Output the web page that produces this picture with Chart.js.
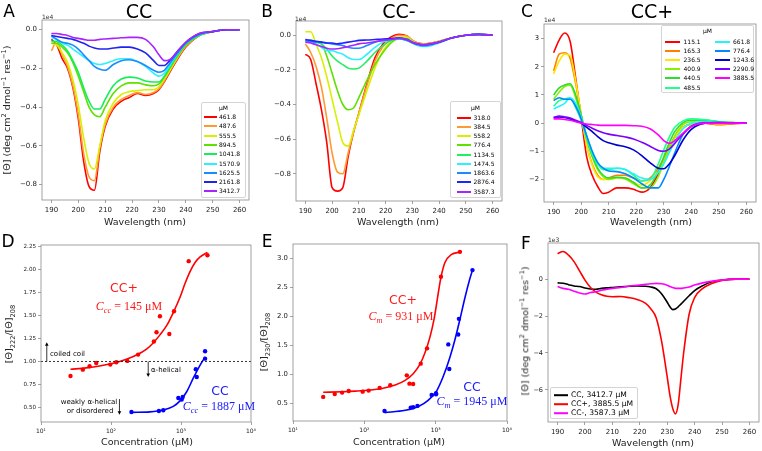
<!DOCTYPE html>
<html>
<head>
<meta charset="utf-8">
<script src="https://cdn.jsdelivr.net/npm/chart.js@4.4.1/dist/chart.umd.min.js"></script>
<style>
  html, body { margin: 0; padding: 0; background: #fff; overflow: hidden; }
  #stage { position: relative; width: 762px; height: 451px; font-family: 'DejaVu Sans', sans-serif; color: #000; }
  #stage canvas { position: absolute; z-index: 1; }
  .t { position: absolute; z-index: 2; transform: translate(-50%, -50%); white-space: nowrap; line-height: 1; }
  .rot { transform: translate(-50%, -50%) rotate(-90deg); }
  .l { transform: translate(0, -50%); }
  .letter { font-size: 17px; }
  .head { font-size: 19px; }
  .axl { font-size: 9.5px; color: #222; }
  .off { font-size: 6px; color: #333; }
  .note { font-size: 7px; }
  .ann { font-size: 12.5px; }
  .serif { font-family: 'Liberation Serif', 'DejaVu Serif', serif; font-size: 12px; }
  sup, sub { font-size: 70%; line-height: 0; }
  .legend { position: absolute; z-index: 3; border: 1px solid #d4d4d4; border-radius: 2px;
            background: rgba(255,255,255,0.9); box-sizing: border-box; }
  .legend div { position: absolute; white-space: nowrap; line-height: 1; display: flex; align-items: center; transform: translateY(-50%); }
  .legend .sw { display: inline-block; height: 2px; }
</style>
</head>
<body>
<div id="stage">
  <!-- panel letters and titles -->
  <div class="t letter" style="left:9px;top:11px">A</div>
  <div class="t letter" style="left:267px;top:11px">B</div>
  <div class="t letter" style="left:527px;top:11px">C</div>
  <div class="t letter" style="left:8px;top:241px">D</div>
  <div class="t letter" style="left:267px;top:241px">E</div>
  <div class="t letter" style="left:526px;top:243px">F</div>
  <div class="t head" style="left:139px;top:11px">CC</div>
  <div class="t head" style="left:399px;top:11px">CC-</div>
  <div class="t head" style="left:652px;top:11px">CC+</div>

  <!-- offset texts -->
  <div class="t l off" style="left:42px;top:16.5px">1e4</div>
  <div class="t l off" style="left:295px;top:19px">1e4</div>
  <div class="t l off" style="left:544px;top:20px">1e4</div>
  <div class="t l off" style="left:548px;top:239.5px">1e3</div>

  <!-- axis labels -->
  <div class="t axl" style="left:145px;top:221.5px">Wavelength (nm)</div>
  <div class="t axl" style="left:398px;top:221.5px">Wavelength (nm)</div>
  <div class="t axl" style="left:651px;top:221.5px">Wavelength (nm)</div>
  <div class="t axl" style="left:147px;top:442px">Concentration (μM)</div>
  <div class="t axl" style="left:399px;top:442px">Concentration (μM)</div>
  <div class="t axl" style="left:653px;top:442.5px">Wavelength (nm)</div>
  <div class="t axl rot" style="left:7px;top:110px">[Θ] (deg cm<sup>2</sup> dmol<sup>−1</sup> res<sup>−1</sup>)</div>
  <div class="t axl rot" style="left:9px;top:334px">[Θ]<sub>222</sub>/[Θ]<sub>208</sub></div>
  <div class="t axl rot" style="left:264px;top:342px">[Θ]<sub>230</sub>/[Θ]<sub>208</sub></div>
  <div class="t axl rot" style="left:525px;top:331px">[Θ] (deg cm<sup>2</sup> dmol<sup>−1</sup> res<sup>−1</sup>)</div>

  <!-- panel D annotations -->
  <div class="t ann" style="left:124px;top:288px;color:#ff1a1a">CC+</div>
  <div class="t serif" style="left:129px;top:306px;color:#ff1a1a"><i>C<sub>cc</sub></i> = 145 μM</div>
  <div class="t ann" style="left:220px;top:391px;color:#1a1aff">CC</div>
  <div class="t serif" style="left:219px;top:406px;color:#1a1aff"><i>C<sub>cc</sub></i> = 1887 μM</div>
  <div class="t l note" style="left:50px;top:354px">coiled coil</div>
  <div class="t l note" style="left:151px;top:369.5px">α-helical</div>
  <div class="t note" style="left:89px;top:402px">weakly α-helical</div>
  <div class="t note" style="left:90px;top:411px">or disordered</div>

  <!-- panel E annotations -->
  <div class="t ann" style="left:403px;top:300px;color:#ff1a1a">CC+</div>
  <div class="t serif" style="left:401px;top:316px;color:#ff1a1a"><i>C<sub>m</sub></i> = 931 μM</div>
  <div class="t ann" style="left:472px;top:386.5px;color:#1a1aff">CC</div>
  <div class="t serif" style="left:472px;top:401px;color:#1a1aff"><i>C<sub>m</sub></i> = 1945 μM</div>
</div>

<script>
// ============================================================
// CD titration figure — six panels drawn with Chart.js
// ============================================================

// ── Shared wavelength grid for panels A–C (nm), values in 1e4 units ──
const waveGrid = [190,192,194,196,198,200,202,204,206,208,210,213,216,219,222,225,228,230,232,234,237,240,245,250,255,260];

// ── Panel A: CC ──────────────────────────────────────────
const concA = ['461.8','487.6','555.5','894.5','1041.8','1570.9','1625.5','2161.8','3412.7'];
const cdA = [
  [-0.05,-0.08,-0.15,-0.20,-0.30,-0.46,-0.68,-0.81,-0.83,-0.63,-0.50,-0.41,-0.37,-0.35,-0.33,-0.34,-0.33,-0.31,-0.27,-0.22,-0.15,-0.09,-0.03,-0.01,0,0],
  [-0.11,-0.06,-0.13,-0.19,-0.29,-0.44,-0.64,-0.76,-0.78,-0.61,-0.49,-0.40,-0.36,-0.34,-0.325,-0.335,-0.325,-0.305,-0.265,-0.215,-0.145,-0.085,-0.03,-0.01,0,0],
  [-0.07,-0.08,-0.12,-0.17,-0.26,-0.39,-0.56,-0.69,-0.72,-0.60,-0.47,-0.38,-0.335,-0.32,-0.315,-0.31,-0.31,-0.295,-0.255,-0.21,-0.14,-0.08,-0.03,-0.01,0,0],
  [-0.07,-0.07,-0.09,-0.12,-0.17,-0.24,-0.32,-0.40,-0.44,-0.45,-0.40,-0.33,-0.29,-0.275,-0.275,-0.285,-0.29,-0.28,-0.245,-0.20,-0.135,-0.08,-0.03,-0.01,0,0],
  [-0.06,-0.06,-0.08,-0.11,-0.16,-0.22,-0.30,-0.37,-0.41,-0.41,-0.36,-0.29,-0.255,-0.245,-0.25,-0.265,-0.27,-0.27,-0.24,-0.195,-0.13,-0.075,-0.03,-0.01,0,0],
  [-0.04,-0.05,-0.07,-0.08,-0.10,-0.12,-0.14,-0.16,-0.175,-0.18,-0.175,-0.16,-0.15,-0.15,-0.165,-0.19,-0.225,-0.24,-0.225,-0.185,-0.125,-0.07,-0.025,-0.01,0,0],
  [-0.03,-0.05,-0.065,-0.07,-0.08,-0.10,-0.13,-0.16,-0.19,-0.205,-0.21,-0.18,-0.16,-0.155,-0.165,-0.185,-0.21,-0.22,-0.21,-0.175,-0.12,-0.07,-0.025,-0.01,0,0],
  [-0.03,-0.035,-0.04,-0.045,-0.05,-0.06,-0.07,-0.085,-0.095,-0.10,-0.10,-0.095,-0.09,-0.09,-0.10,-0.12,-0.16,-0.185,-0.185,-0.16,-0.11,-0.065,-0.02,-0.01,0,0],
  [-0.02,-0.02,-0.025,-0.03,-0.04,-0.045,-0.05,-0.055,-0.055,-0.05,-0.048,-0.045,-0.042,-0.04,-0.04,-0.05,-0.09,-0.13,-0.16,-0.155,-0.11,-0.065,-0.02,-0.01,0,0]
];
const colorsA = ['#ff0000','#ff9933','#d8f000','#5ee000','#14ee5a','#2af0ff','#1a8cff','#2222ee','#aa22ff'];

// ── Panel B: CC- ─────────────────────────────────────────
const concB = ['318.0','384.5','558.2','776.4','1134.5','1474.5','1863.6','2876.4','3587.3'];
const cdB = [
  [-0.11,-0.14,-0.28,-0.43,-0.62,-0.88,-0.90,-0.88,-0.70,-0.56,-0.45,-0.28,-0.13,-0.05,-0.01,0.005,-0.005,-0.03,-0.045,-0.05,-0.045,-0.035,-0.015,0,0.005,0],
  [-0.05,-0.10,-0.18,-0.30,-0.48,-0.68,-0.79,-0.80,-0.68,-0.56,-0.45,-0.29,-0.15,-0.065,-0.02,0,-0.005,-0.03,-0.045,-0.05,-0.045,-0.035,-0.015,0,0.005,0],
  [0.02,0.02,-0.05,-0.13,-0.24,-0.37,-0.50,-0.62,-0.64,-0.55,-0.46,-0.32,-0.19,-0.09,-0.035,-0.01,-0.01,-0.035,-0.05,-0.055,-0.05,-0.035,-0.015,0,0.005,0],
  [-0.03,-0.03,-0.04,-0.05,-0.12,-0.22,-0.32,-0.40,-0.43,-0.42,-0.36,-0.26,-0.17,-0.10,-0.045,-0.02,-0.02,-0.04,-0.055,-0.06,-0.055,-0.04,-0.015,0,0.005,0],
  [-0.03,-0.035,-0.04,-0.05,-0.08,-0.12,-0.15,-0.17,-0.19,-0.195,-0.19,-0.15,-0.10,-0.06,-0.03,-0.02,-0.025,-0.04,-0.055,-0.06,-0.055,-0.04,-0.015,0,0.005,0],
  [-0.03,-0.04,-0.05,-0.07,-0.09,-0.09,-0.10,-0.11,-0.13,-0.14,-0.14,-0.11,-0.07,-0.04,-0.025,-0.02,-0.03,-0.045,-0.06,-0.065,-0.06,-0.045,-0.015,0,0.005,0],
  [-0.03,-0.035,-0.04,-0.04,-0.045,-0.05,-0.055,-0.06,-0.07,-0.075,-0.075,-0.06,-0.04,-0.03,-0.025,-0.02,-0.03,-0.045,-0.055,-0.06,-0.055,-0.04,-0.015,0,0.005,0],
  [-0.025,-0.03,-0.035,-0.04,-0.045,-0.045,-0.05,-0.045,-0.04,-0.035,-0.03,-0.028,-0.025,-0.022,-0.02,-0.015,-0.025,-0.04,-0.05,-0.055,-0.05,-0.04,-0.015,0,0.005,0],
  [-0.04,-0.045,-0.055,-0.065,-0.075,-0.08,-0.078,-0.072,-0.065,-0.058,-0.05,-0.045,-0.038,-0.03,-0.025,-0.018,-0.025,-0.04,-0.05,-0.055,-0.05,-0.04,-0.015,0,0.005,0]
];
const colorsB = ['#ff0000','#ff9933','#d8f000','#5ee000','#22ee66','#2af0ff','#2288ff','#2222ff','#aa22ff'];

// ── Panel C: CC+ ─────────────────────────────────────────
const concC = ['115.1','165.3','236.5','400.9','440.5','485.5','661.8','776.4','1243.6','2290.9','3885.5'];
const cdC = [
  [2.5,2.95,3.2,2.9,1.6,0.2,-1.2,-1.85,-2.25,-2.5,-2.45,-2.3,-2.3,-2.35,-2.45,-2.3,-1.8,-1.35,-0.9,-0.5,-0.15,-0.03,0,-0.05,-0.02,0],
  [1.85,2.45,2.5,2.3,1.4,0.3,-0.8,-1.45,-1.85,-2.0,-1.95,-1.85,-1.85,-1.95,-2.05,-1.95,-1.6,-1.25,-0.85,-0.5,-0.15,-0.04,0,-0.05,-0.02,0],
  [1.75,2.2,2.45,2.4,1.5,0.3,-0.8,-1.5,-1.9,-2.0,-2.0,-1.92,-1.95,-2.1,-2.2,-2.05,-1.7,-1.35,-0.9,-0.5,-0.15,-0.03,0.02,-0.02,0,0],
  [0.85,1.1,1.3,1.35,0.9,0.2,-0.6,-1.2,-1.65,-1.9,-2.0,-1.95,-1.98,-2.15,-2.3,-2.3,-1.9,-1.4,-0.9,-0.45,-0.05,0.05,0.1,0.05,0.02,0],
  [1.0,1.25,1.35,1.4,1.0,0.3,-0.5,-1.15,-1.6,-1.85,-1.95,-1.92,-1.95,-2.1,-2.3,-2.2,-1.7,-1.2,-0.7,-0.3,0.02,0.1,0.1,0.05,0.02,0],
  [0.6,0.8,0.85,0.9,0.55,0.1,-0.55,-1.1,-1.45,-1.65,-1.65,-1.6,-1.65,-1.85,-2.05,-2.0,-1.45,-0.95,-0.5,-0.15,0.08,0.15,0.12,0.05,0.02,0],
  [0.5,0.6,0.7,0.9,0.7,0.2,-0.45,-1.0,-1.4,-1.6,-1.6,-1.6,-1.65,-1.8,-1.95,-2.0,-1.75,-1.45,-1.05,-0.65,-0.2,0,0.05,0.02,0.01,0],
  [0.8,0.9,0.85,0.85,0.6,0.15,-0.45,-1.0,-1.4,-1.6,-1.7,-1.72,-1.8,-1.95,-2.15,-2.3,-2.3,-2.0,-1.55,-1.05,-0.4,-0.1,0.02,0.02,0.01,0],
  [0.2,0.22,0.2,0.15,0.08,0,-0.15,-0.3,-0.48,-0.62,-0.7,-0.78,-0.84,-0.95,-1.15,-1.4,-1.6,-1.62,-1.45,-1.15,-0.6,-0.22,0,0.02,0.01,0],
  [0.2,0.25,0.22,0.18,0.1,0.02,-0.08,-0.18,-0.27,-0.34,-0.39,-0.44,-0.49,-0.56,-0.68,-0.82,-0.97,-1.0,-0.92,-0.72,-0.38,-0.12,0,0,0,0],
  [0.15,0.15,0.13,0.1,0.05,0,-0.03,-0.05,-0.07,-0.08,-0.08,-0.08,-0.08,-0.09,-0.11,-0.2,-0.42,-0.62,-0.72,-0.62,-0.35,-0.12,0,0,0,0]
];
const colorsC = ['#ff0000','#ff8000','#ffe600','#88f000','#2edc2e','#22ff8c','#22f4ff','#0088ff','#0000d0','#7a00ff','#ff00ff'];

// ── Panel F: high-concentration spectra (1e3 units) ──────
const waveF = [190,192,194,196,198,200,202,204,206,208,210,213,216,219,222,224,226,228,230,231,232,233,234,235,236,238,240,243,246,250,255,260];
const labelsF = ['CC, 3412.7 μM','CC+, 3885.5 μM','CC-, 3587.3 μM'];
const cdF = [
  [-0.2,-0.22,-0.3,-0.37,-0.4,-0.48,-0.53,-0.55,-0.5,-0.47,-0.45,-0.42,-0.38,-0.37,-0.38,-0.42,-0.52,-0.8,-1.25,-1.5,-1.65,-1.62,-1.5,-1.35,-1.2,-0.9,-0.62,-0.35,-0.15,-0.05,0,0],
  [1.38,1.5,1.3,0.95,0.45,-0.05,-0.45,-0.7,-0.85,-0.93,-0.95,-0.94,-1.0,-1.1,-1.3,-1.6,-2.1,-3.4,-5.3,-6.3,-7.0,-7.3,-6.8,-5.4,-4.0,-1.9,-1.0,-0.5,-0.25,-0.07,0,0],
  [-0.4,-0.5,-0.55,-0.65,-0.75,-0.8,-0.72,-0.68,-0.6,-0.55,-0.5,-0.45,-0.38,-0.33,-0.28,-0.25,-0.23,-0.25,-0.33,-0.4,-0.45,-0.5,-0.5,-0.5,-0.48,-0.42,-0.32,-0.2,-0.12,-0.05,0,0]
];
const colorsF = ['#000000','#ff0000','#ff00ff'];

// ── Panel D: [Θ]222/[Θ]208 vs concentration (μM) ─────────
const concPlusD  = [26.4,39.6,49.4,61.5,97.7,119,171,244,410,447,500,681,794,1288,2389];
const ratioPlusD = [0.842,0.911,0.948,0.984,0.966,0.991,1.006,1.075,1.217,1.319,1.493,1.30,1.548,2.094,2.159];
const fitPlusXD  = [26.4,44.3,68.7,107,166,231,322,410,500,623,794,968,1141,1346,1588,1875,2389];
const fitPlusYD  = [0.915,0.93,0.95,0.98,1.025,1.07,1.135,1.21,1.29,1.39,1.55,1.70,1.85,1.98,2.08,2.14,2.19];
const concCCD    = [196,483,558,916,1023,1057,1627,1678,2208,2208];
const ratioCCD   = [0.449,0.46,0.468,0.602,0.584,0.613,0.915,0.831,1.111,1.031];
const fitCCXD    = [196,359,558,776,968,1205,1503,1875,2208];
const fitCCYD    = [0.445,0.45,0.47,0.51,0.57,0.67,0.82,0.96,1.05];
const refLineD   = [1, 1];
const refSpanD   = [10, 10000];

// ── Panel E: [Θ]230/[Θ]208 vs concentration (μM) ─────────
const concPlusE  = [26.5,38.5,48.8,60.4,94.8,115,164,231,394,429,483,618,757,1186,2188];
const ratioPlusE = [0.615,0.666,0.689,0.718,0.706,0.724,0.77,0.815,0.987,0.844,0.838,1.188,1.452,2.685,3.115];
const fitPlusXE  = [26.5,48.8,74.8,115,177,271,373,488,604,710,833,948,1055,1175,1349,1671,2188];
const fitPlusYE  = [0.695,0.705,0.715,0.73,0.76,0.82,0.90,1.02,1.18,1.38,1.65,1.95,2.30,2.65,2.93,3.07,3.11];
const concCCE    = [192,448,483,555,879,1012,1012,1552,1503,2072,2118,3281];
const ratioCCE   = [0.374,0.431,0.437,0.46,0.649,0.66,0.678,1.096,1.52,1.69,1.96,2.80];
const fitCCXE    = [192,373,573,791,1033,1279,1585,1862,2188,2567,3013,3281];
const fitCCYE    = [0.345,0.385,0.45,0.56,0.72,0.97,1.30,1.60,1.95,2.32,2.65,2.80];

// ── Tick values ──────────────────────────────────────────
const waveTicks = [190,200,210,220,230,240,250,260];
const ticksA = [0,-0.2,-0.4,-0.6,-0.8];
const ticksB = [0,-0.2,-0.4,-0.6,-0.8];
const ticksC = [3,2,1,0,-1,-2];
const ticksD = [0.5,0.75,1,1.25,1.5,1.75,2,2.25];
const ticksE = [0.5,1,1.5,2,2.5,3];
const ticksF = [0,-2,-4,-6];
const concTicks = [10,100,1000,10000];

// ── Helpers ──────────────────────────────────────────────
const FONT = "'DejaVu Sans', sans-serif";
const SPINE = '#8a8a8a';
const YW = 40, XH = 22, PT = 10, PR = 12;
const RED = '#ff0000', BLUE = '#0000ff';

const minus = (s) => s.replace('-', '\u2212');
const fix = (d) => (v) => minus(Number(v).toFixed(d));
const SUPS = {1: '\u00b9', 2: '\u00b2', 3: '\u00b3', 4: '\u2074'};
const pow10 = (v) => '10' + SUPS[Math.round(Math.log10(v))];

function pts(xs, ys) {
  return xs.map((x, i) => ({ x: x, y: ys[i] }));
}

function mount(box) {
  const cv = document.createElement('canvas');
  const w = Math.round(box.r - box.l + YW + PR);
  const h = Math.round(box.b - box.t + PT + XH);
  cv.width = w; cv.height = h;
  cv.style.left = (box.l - YW) + 'px';
  cv.style.top = (box.t - PT) + 'px';
  cv.style.width = w + 'px';
  cv.style.height = h + 'px';
  document.getElementById('stage').appendChild(cv);
  return cv;
}

function axis(o, isX) {
  return {
    type: o.type || 'linear',
    min: o.min,
    max: o.max,
    afterBuildTicks: (s) => { s.ticks = o.ticks.map((v) => ({ value: v })); },
    afterFit: (s) => { if (isX) s.height = XH; else s.width = YW; },
    grid: { drawOnChartArea: false, drawTicks: true, tickLength: 3, color: SPINE, lineWidth: 0.8 },
    border: { display: false },
    ticks: {
      autoSkip: false, maxRotation: 0, padding: isX ? 3 : 2, color: '#222',
      font: { family: FONT, size: o.size },
      callback: (v) => o.fmt(v)
    }
  };
}

// spines all round, on top of the data like matplotlib
const framePlugin = {
  id: 'frame',
  afterDraw(chart) {
    const { ctx, chartArea: a } = chart;
    ctx.save();
    ctx.strokeStyle = SPINE;
    ctx.lineWidth = 0.8;
    ctx.strokeRect(a.left, a.top, a.right - a.left, a.bottom - a.top);
    ctx.restore();
  }
};

function makeChart(box, datasets, xOpt, yOpt, extra) {
  return new Chart(mount(box), {
    type: 'line',
    data: { datasets: datasets },
    options: {
      responsive: false,
      animation: false,
      events: [],
      layout: { padding: { top: PT, right: PR, left: 0, bottom: 0 } },
      plugins: { legend: { display: false }, tooltip: { enabled: false } },
      elements: { point: { radius: 0 }, line: { borderWidth: 1.6, cubicInterpolationMode: 'monotone' } },
      scales: { x: axis(xOpt, true), y: axis(yOpt, false) }
    },
    plugins: [framePlugin].concat(extra || [])
  });
}

function spectra(xs, rows, colors) {
  // later series on top, as in the original plot
  return rows.map((r, i) => ({
    data: pts(xs, r), borderColor: colors[i], order: rows.length - i
  }));
}

function legend(x, y, w, h, title, labels, colors, o) {
  const box = document.createElement('div');
  box.className = 'legend';
  Object.assign(box.style, { left: x + 'px', top: y + 'px', width: w + 'px', height: h + 'px', fontSize: o.font + 'px' });
  if (title) {
    const t = document.createElement('div');
    t.textContent = title;
    t.style.left = '50%';
    t.style.top = o.titleY + 'px';
    t.style.transform = 'translate(-50%,-50%)';
    box.appendChild(t);
  }
  labels.forEach((lab, i) => {
    const col = Math.floor(i / o.perCol), row = i % o.perCol;
    const r = document.createElement('div');
    r.style.left = (o.lineX + col * o.colW) + 'px';
    r.style.top = Math.round(o.rowY + row * o.rowH) + 'px';
    r.innerHTML = '<span class="sw" style="width:' + o.lineW + 'px;background:' + colors[i] +
                  ';margin-right:' + o.gap + 'px"></span><span>' + lab + '</span>';
    box.appendChild(r);
  });
  document.getElementById('stage').appendChild(box);
}

const waveAxis = { min: 186.5, max: 263.5, ticks: waveTicks, fmt: (v) => String(v), size: 7 };
const concAxis = (size) => ({ type: 'logarithmic', min: 10, max: 10000, ticks: concTicks, fmt: pow10, size: size });

// ── Panel A ──
makeChart({ l: 42, t: 20, r: 249, b: 200 }, spectra(waveGrid, cdA, colorsA), waveAxis,
  { min: -0.88, max: 0.05, ticks: ticksA, fmt: fix(1), size: 7 });
legend(201, 102, 45, 96, 'μM', concA, colorsA,
  { font: 6, titleY: 5, rowY: 14, rowH: 9.3, perCol: 9, colW: 0, lineX: 2, lineW: 13, gap: 2 });

// ── Panel B ──
makeChart({ l: 296, t: 21, r: 502, b: 201 }, spectra(waveGrid, cdB, colorsB), waveAxis,
  { min: -0.957, max: 0.082, ticks: ticksB, fmt: fix(1), size: 7 });
legend(450, 101, 51, 97, 'μM', concB, colorsB,
  { font: 6, titleY: 6, rowY: 15.5, rowH: 9.25, perCol: 9, colW: 0, lineX: 6, lineW: 14, gap: 2.5 });

// ── Panel C ──
makeChart({ l: 544, t: 24, r: 756, b: 202 }, spectra(waveGrid, cdC, colorsC), waveAxis,
  { min: -2.8, max: 3.52, ticks: ticksC, fmt: fix(0), size: 6.8 });
legend(661, 25, 93, 68, 'μM', concC, colorsC,
  { font: 6, titleY: 4.5, rowY: 16, rowH: 9.1, perCol: 6, colW: 49.5, lineX: 3, lineW: 15, gap: 3.5 });

// ── Panel F ──
makeChart({ l: 548, t: 243, r: 759, b: 422 }, spectra(waveF, cdF, colorsF), waveAxis,
  { min: -7.74, max: 1.96, ticks: ticksF, fmt: fix(0), size: 6.5 });
legend(550, 387, 88, 32, null, labelsF, colorsF,
  { font: 7.6, titleY: 0, rowY: 7, rowH: 9.2, perCol: 3, colW: 0, lineX: 3, lineW: 14, gap: 3 });

// ── Panel D ──
const arrowsD = [
  { x: 12.1, from: 1.0, to: 1.21 },
  { x: 340,  from: 1.0, to: 0.83 },
  { x: 132,  from: 0.59, to: 0.42 }
];
const arrowPlugin = {
  id: 'arrows',
  afterDatasetsDraw(chart) {
    const { ctx, scales: { x, y } } = chart;
    ctx.save();
    ctx.strokeStyle = '#000';
    ctx.fillStyle = '#000';
    ctx.lineWidth = 0.8;
    arrowsD.forEach((a) => {
      const px = x.getPixelForValue(a.x);
      const y0 = y.getPixelForValue(a.from), y1 = y.getPixelForValue(a.to);
      const dir = y1 < y0 ? 1 : -1;
      ctx.beginPath(); ctx.moveTo(px, y0); ctx.lineTo(px, y1 + dir * 2.5); ctx.stroke();
      ctx.beginPath();
      ctx.moveTo(px, y1);
      ctx.lineTo(px - 1.8, y1 + dir * 3.5);
      ctx.lineTo(px + 1.8, y1 + dir * 3.5);
      ctx.closePath(); ctx.fill();
    });
    ctx.restore();
  }
};

makeChart({ l: 41, t: 245, r: 251, b: 422 }, [
  { data: pts(refSpanD, refLineD), borderColor: '#000', borderWidth: 0.8, borderDash: [2, 2] },
  { data: pts(fitPlusXD, fitPlusYD), borderColor: RED, borderWidth: 1.6 },
  { data: pts(concPlusD, ratioPlusD), showLine: false, pointRadius: 2.2, pointBorderWidth: 0, pointBackgroundColor: RED },
  { data: pts(fitCCXD, fitCCYD), borderColor: BLUE, borderWidth: 1.6 },
  { data: pts(concCCD, ratioCCD), showLine: false, pointRadius: 2.2, pointBorderWidth: 0, pointBackgroundColor: BLUE }
], concAxis(6), { min: 0.34, max: 2.27, ticks: ticksD, fmt: fix(2), size: 5.6 }, [arrowPlugin]);

// ── Panel E ──
makeChart({ l: 293, t: 244, r: 507, b: 421 }, [
  { data: pts(fitPlusXE, fitPlusYE), borderColor: RED, borderWidth: 1.6 },
  { data: pts(concPlusE, ratioPlusE), showLine: false, pointRadius: 2.2, pointBorderWidth: 0, pointBackgroundColor: RED },
  { data: pts(fitCCXE, fitCCYE), borderColor: BLUE, borderWidth: 1.6 },
  { data: pts(concCCE, ratioCCE), showLine: false, pointRadius: 2.2, pointBorderWidth: 0, pointBackgroundColor: BLUE }
], concAxis(6), { min: 0.2, max: 3.25, ticks: ticksE, fmt: fix(1), size: 6.9 });
</script>
</body>
</html>
